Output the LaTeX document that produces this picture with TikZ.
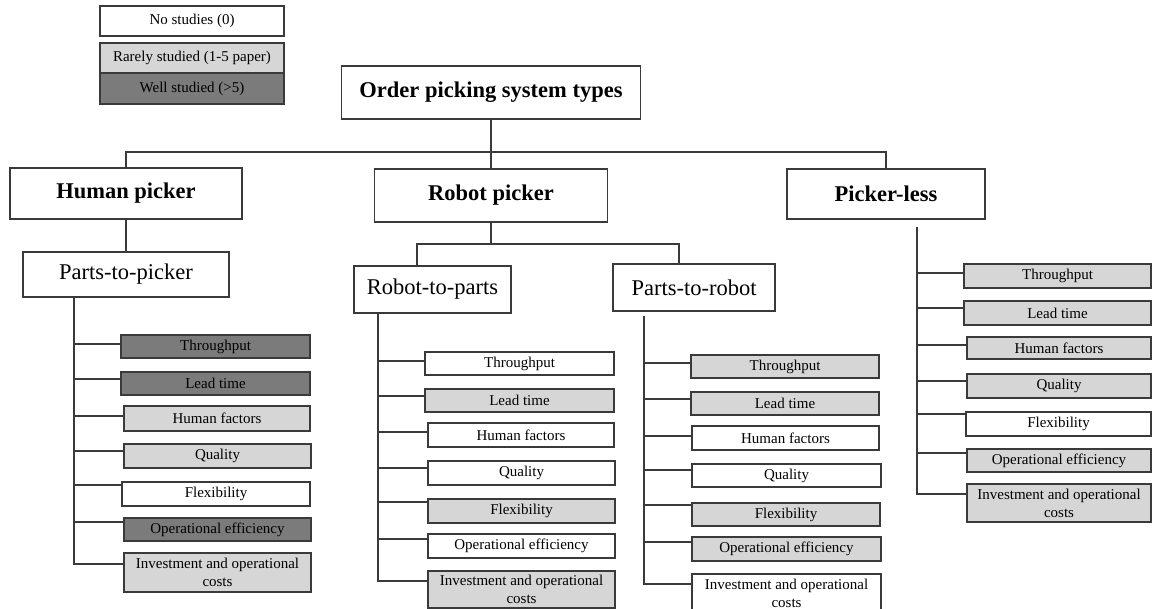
\documentclass[tikz,border=0pt]{standalone}
\usepackage{fontspec}
\setmainfont{Liberation Serif}
\usetikzlibrary{calc}
\definecolor{wellc}{HTML}{7B7B7B}
\definecolor{rarec}{HTML}{D6D6D6}
\definecolor{bdc}{HTML}{3A3A3A}
\tikzset{
  box/.style={rectangle, draw=bdc, line width=1.4pt, inner sep=0pt, align=center},
  item/.style={box, font=\fontsize{15}{18}\selectfont},
  hdr/.style={box, font=\fontsize{22.5}{26}\selectfont\bfseries},
  subhdr/.style={box, font=\fontsize{22.5}{26}\selectfont},
  nost/.style={fill=white},
  rare/.style={fill=rarec},
  well/.style={fill=wellc},
  link/.style={draw=bdc, line width=1.4pt, line cap=rect},
}
\newcommand\itm[7]{\node[item,#6,minimum width=#4pt,minimum height=#5pt] (#1) at (#2,#3) {#7};}
\newcommand\brn[3]{\path ([yshift=#2pt]#1.west) coordinate (tmpb); \draw[link] (tmpb) -- (tmpb -| #3);}
\begin{document}
\begin{tikzpicture}[x=1pt,y=-1pt]
\useasboundingbox (0,0) rectangle (1153,609);
\fill[white] (0,0) rectangle (1153,609);

% legend
\itm{lg0}{192}{21}{184}{30}{nost}{No studies (0)}
\itm{lg1}{192}{58}{184}{30}{rare}{Rarely studied (1-5 paper)}
\itm{lg2}{192}{88.5}{184}{31}{well}{Well studied (>5)}

% main hierarchy
\node[hdr,minimum width=299pt,minimum height=53pt] (top) at (491,92.5) {Order picking system types};
\node[hdr,minimum width=232pt,minimum height=51pt] (human) at (126,193.5) {Human picker};
\node[hdr,minimum width=233pt,minimum height=53pt] (robot) at (491,195.5) {Robot picker};
\node[hdr,minimum width=198pt,minimum height=50pt] (pless) at (886,194) {Picker-less};
\node[subhdr,minimum width=206pt,minimum height=45pt] (ptp) at (126,274.5) {Parts-to-picker};
\node[subhdr,minimum width=157pt,minimum height=47pt] (rtp) at (432.5,289.5) {Robot-to-parts};
\node[subhdr,minimum width=162pt,minimum height=47pt] (ptr) at (694,287.5) {Parts-to-robot};

\coordinate (j1) at (491,152);
\coordinate (j2) at (491,244);
\draw[link] (human.north) |- (j1) -| (pless.north);
\draw[link] (top.south) -- (robot.north);
\draw[link] (human.south) -- (ptp.north);
\draw[link] (robot.south) -- (j2);
\draw[link] ([xshift=-15.5pt]rtp.north) |- (j2) -| ([xshift=-15pt]ptr.north);

% Parts-to-picker items
\itm{a1}{215.5}{346.5}{189}{23}{well}{Throughput}
\itm{a2}{215.5}{383.5}{189}{23}{well}{Lead time}
\itm{a3}{217}{418.5}{186}{25}{rare}{Human factors}
\itm{a4}{217.5}{456}{187}{24}{rare}{Quality}
\itm{a5}{216}{494}{188}{24}{nost}{Flexibility}
\itm{a6}{217.5}{529.5}{187}{23}{well}{Operational efficiency}
\itm{a7}{217.5}{572.5}{187}{39}{rare}{Investment and operational\\costs}
\coordinate (s1b) at (74,564);
\draw[link] ([xshift=-52pt]ptp.south) -- (s1b);
\brn{a1}{2.5}{s1b}
\brn{a2}{4.5}{s1b}
\brn{a3}{2.5}{s1b}
\brn{a4}{5}{s1b}
\brn{a5}{9}{s1b}
\brn{a6}{7.5}{s1b}
\brn{a7}{8.5}{s1b}

% Robot-to-parts items
\itm{b1}{519.5}{363.5}{189}{23}{nost}{Throughput}
\itm{b2}{519.5}{400.5}{189}{23}{rare}{Lead time}
\itm{b3}{521}{435}{186}{24}{nost}{Human factors}
\itm{b4}{521.5}{473}{187}{24}{nost}{Quality}
\itm{b5}{521.5}{511}{187}{24}{rare}{Flexibility}
\itm{b6}{521.5}{546}{187}{24}{nost}{Operational efficiency}
\itm{b7}{521.5}{589.5}{187}{37}{rare}{Investment and operational\\costs}
\coordinate (s2b) at (378,581);
\draw[link] ([xshift=-54.5pt]rtp.south) -- (s2b);
\brn{b1}{2.5}{s2b}
\brn{b2}{4.5}{s2b}
\brn{b3}{3}{s2b}
\brn{b4}{5}{s2b}
\brn{b5}{9}{s2b}
\brn{b6}{7}{s2b}
\brn{b7}{8.5}{s2b}

% Parts-to-robot items
\itm{c1}{785}{366.5}{188}{23}{rare}{Throughput}
\itm{c2}{785}{403.5}{188}{23}{rare}{Lead time}
\itm{c3}{785.5}{438}{187}{24}{nost}{Human factors}
\itm{c4}{786.5}{475.5}{189}{23}{nost}{Quality}
\itm{c5}{786}{514.5}{188}{23}{rare}{Flexibility}
\itm{c6}{786.5}{549}{189}{24}{rare}{Operational efficiency}
\itm{c7}{786.5}{593}{189}{38}{nost}{Investment and operational\\costs}
\coordinate (s3a) at (644,317);
\coordinate (s3b) at (644,584);
\draw[link] (s3a) -- (s3b);
\brn{c1}{3.5}{s3b}
\brn{c2}{4.5}{s3b}
\brn{c3}{2}{s3b}
\brn{c4}{5.5}{s3b}
\brn{c5}{9.5}{s3b}
\brn{c6}{7}{s3b}
\brn{c7}{9}{s3b}

% Picker-less items
\itm{d1}{1057.5}{276}{187}{24}{rare}{Throughput}
\itm{d2}{1057.5}{313}{187}{24}{rare}{Lead time}
\itm{d3}{1059}{348}{184}{22}{rare}{Human factors}
\itm{d4}{1059}{386}{184}{24}{rare}{Quality}
\itm{d5}{1058.5}{424}{185}{24}{nost}{Flexibility}
\itm{d6}{1059}{460.5}{184}{23}{rare}{Operational efficiency}
\itm{d7}{1059}{503}{184}{38}{rare}{Investment and operational\\costs}
\coordinate (s4a) at (917,228);
\coordinate (s4b) at (917,494);
\draw[link] (s4a) -- (s4b);
\brn{d1}{3}{s4b}
\brn{d2}{5}{s4b}
\brn{d3}{3}{s4b}
\brn{d4}{5}{s4b}
\brn{d5}{10}{s4b}
\brn{d6}{7.5}{s4b}
\brn{d7}{9}{s4b}
\end{tikzpicture}
\end{document}
